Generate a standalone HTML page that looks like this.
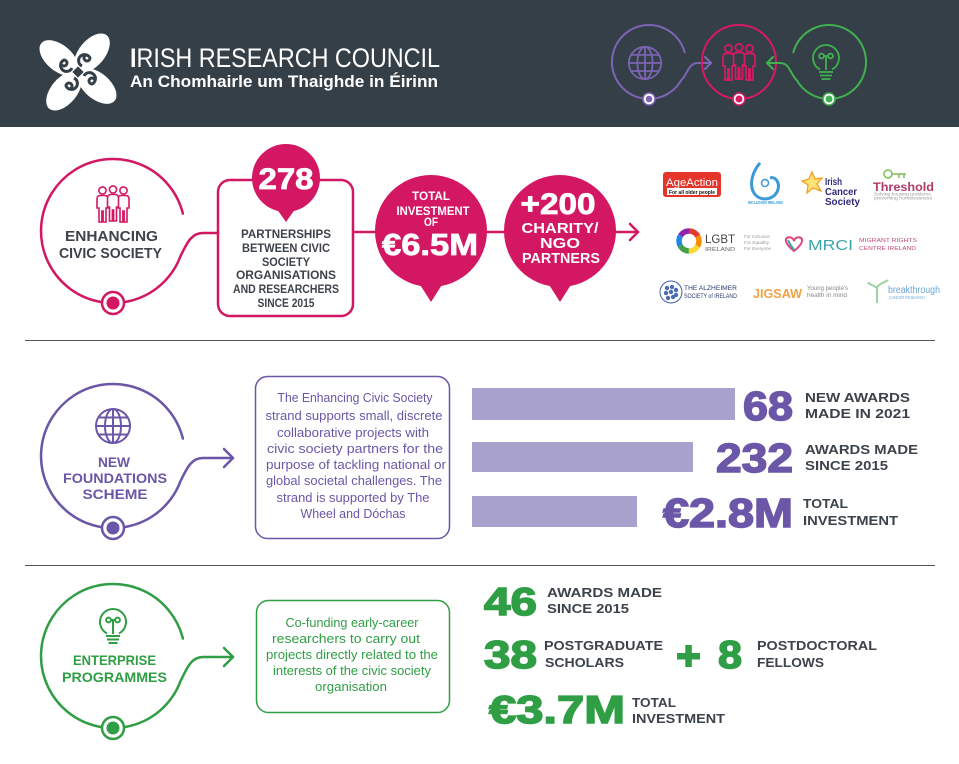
<!DOCTYPE html>
<html>
<head>
<meta charset="utf-8">
<style>
  html,body{margin:0;padding:0;background:#fff;}
  svg{display:block;}
  text{font-family:"Liberation Sans","DejaVu Sans",sans-serif;}
</style>
</head>
<body>
<svg width="959" height="764" viewBox="0 0 959 764" xmlns="http://www.w3.org/2000/svg">
  <defs>
    <g id="person">
      <circle cx="0" cy="4.5" r="3.6"/>
      <path d="M-5.5 22 V13 Q-5.5 9.5 -2 9.5 H2 Q5.5 9.5 5.5 13 V22 H3.5 V36 H0.6 V25 H-0.6 V36 H-3.5 V22 Z"/>
    </g>
    <g id="people">
      <use href="#person" x="5.5" y="1"/>
      <use href="#person" x="26.5" y="1"/>
      <use href="#person" x="16" y="0"/>
    </g>
    <g id="globe" fill="none">
      <circle cx="0" cy="0" r="17"/>
      <ellipse cx="0" cy="0" rx="8" ry="17"/>
      <line x1="0" y1="-17" x2="0" y2="17"/>
      <line x1="-17" y1="0" x2="17" y2="0"/>
      <line x1="-14.5" y1="-8.5" x2="14.5" y2="-8.5"/>
      <line x1="-14.5" y1="8.5" x2="14.5" y2="8.5"/>
    </g>
    <g id="bulb" fill="none">
      <path d="M-6 11.5 A13 13 0 1 1 6 11.5"/>
      <circle cx="-4.5" cy="-2" r="2.4"/>
      <circle cx="4.5" cy="-2" r="2.4"/>
      <path d="M-2.1 -2 H2.1 M0 -2 V12"/>
      <path d="M-7 14 H7 M-6 17.5 H6 M-4.5 21 H4.5"/>
    </g>
  </defs>

  <!-- HEADER -->
  <rect x="0" y="0" width="959" height="127" fill="#353f48"/>
  <!-- logo -->
  <g transform="translate(78,72)">
    <g fill="#ffffff">
      <ellipse cx="14" cy="-19" rx="13" ry="23" transform="rotate(40 14 -19)"/>
      <ellipse cx="19" cy="14" rx="13" ry="23" transform="rotate(130 19 14)"/>
      <ellipse cx="-14" cy="19" rx="13" ry="23" transform="rotate(40 -14 19)"/>
      <ellipse cx="-19" cy="-14" rx="13" ry="23" transform="rotate(130 -19 -14)"/>
    </g>
    <g fill="none" stroke="#353f48" stroke-width="3">
      <path d="M4 -6 a6 6 0 1 1 8 -8 a3 3 0 1 1 -3 -3"/>
      <path d="M6 4 a6 6 0 1 1 8 8 a3 3 0 1 1 3 -3"/>
      <path d="M-4 6 a6 6 0 1 1 -8 8 a3 3 0 1 1 3 3"/>
      <path d="M-6 -4 a6 6 0 1 1 -8 -8 a3 3 0 1 1 -3 3"/>
    </g>
    <rect x="-4" y="-4" width="8" height="8" fill="#353f48" transform="rotate(45)"/>
  </g>
  <text x="130" y="67" font-size="27" fill="#ffffff" textLength="310" lengthAdjust="spacingAndGlyphs"><tspan font-weight="bold">I</tspan>RISH RESEARCH COUNCIL</text>
  <text x="130" y="87" font-size="17" font-weight="bold" fill="#ffffff" textLength="308" lengthAdjust="spacingAndGlyphs">An Chomhairle um Thaighde in Éirinn</text>

  <!-- header icons -->
  <g fill="none" stroke-width="2" stroke-linecap="round" stroke-linejoin="round">
    <path d="M684.7 52.4 A37 37 0 1 0 681 80.5 C688 74 688 63 698 63 L711 63" stroke="#7d65b6"/>
    <path d="M705 57 L711 63 L705 69" stroke="#7d65b6"/>
    <circle cx="739" cy="62" r="37" stroke="#d81a63"/>
    <path d="M793.3 52.4 A37 37 0 1 1 797 80.5 C790 74 790 63 780 63 L767 63" stroke="#3fb24f"/>
    <path d="M773 57 L767 63 L773 69" stroke="#3fb24f"/>
  </g>
  <g stroke="#7d65b6" stroke-width="1.8"><use href="#globe" transform="translate(645,63) scale(0.95)"/></g>
  <g stroke="#d81a63" stroke-width="1.7" fill="#353f48"><use href="#people" transform="translate(723,43) scale(1)"/></g>
  <g stroke="#3fb24f" stroke-width="1.8"><use href="#bulb" transform="translate(826,58) scale(1)"/></g>
  <circle cx="649" cy="99" r="6" fill="#ffffff" stroke="#7d65b6" stroke-width="1.5"/>
  <circle cx="649" cy="99" r="3.3" fill="#7d65b6"/>
  <circle cx="739" cy="99" r="6" fill="#ffffff" stroke="#d81a63" stroke-width="1.5"/>
  <circle cx="739" cy="99" r="3.5" fill="#d81a63"/>
  <circle cx="829" cy="99" r="6" fill="#ffffff" stroke="#3fb24f" stroke-width="1.5"/>
  <circle cx="829" cy="99" r="3.5" fill="#3fb24f"/>

  <!-- SECTION 1 -->
  <g fill="none" stroke="#d31763" stroke-width="2.5" stroke-linecap="round" stroke-linejoin="round">
    <path d="M182.9 213.6 A72 72 0 1 0 180.7 255.6 C186 246 190 233 203 233 L218 233"/>
    <rect x="218" y="180" width="135" height="136" rx="12"/>
    <path d="M353 232 L376 232"/>
    <path d="M486 232 L505 232"/>
    <path d="M615 232 L638 232"/>
    <path d="M630 224 L638 232 L630 240"/>
  </g>
  <circle cx="113" cy="303" r="11" fill="#ffffff" stroke="#d31763" stroke-width="2.5"/>
  <circle cx="113" cy="303" r="6.5" fill="#d31763"/>
  <g stroke="#d31763" stroke-width="1.6" fill="#ffffff"><use href="#people" transform="translate(97,185)"/></g>
  <text x="111.5" y="241" font-size="14.5" font-weight="bold" fill="#3d434a" text-anchor="middle" textLength="93" lengthAdjust="spacingAndGlyphs">ENHANCING</text>
  <text x="110.5" y="258" font-size="14.5" font-weight="bold" fill="#3d434a" text-anchor="middle" textLength="103" lengthAdjust="spacingAndGlyphs">CIVIC SOCIETY</text>

  <!-- 278 bubble -->
  <circle cx="286" cy="178" r="34" fill="#d31763"/>
  <path d="M274 205 L298 205 L286 222 Z" fill="#d31763"/>
  <text x="286" y="189" font-size="30" font-weight="bold" fill="#ffffff" stroke="#ffffff" stroke-width="0.8" text-anchor="middle" textLength="55" lengthAdjust="spacingAndGlyphs">278</text>
  <g font-size="12" font-weight="bold" fill="#3d434a" text-anchor="middle">
    <text x="286" y="238" textLength="90" lengthAdjust="spacingAndGlyphs">PARTNERSHIPS</text>
    <text x="286" y="252" textLength="88" lengthAdjust="spacingAndGlyphs">BETWEEN CIVIC</text>
    <text x="286" y="266" textLength="48" lengthAdjust="spacingAndGlyphs">SOCIETY</text>
    <text x="286" y="279" textLength="100" lengthAdjust="spacingAndGlyphs">ORGANISATIONS</text>
    <text x="286" y="293" textLength="106" lengthAdjust="spacingAndGlyphs">AND RESEARCHERS</text>
    <text x="286" y="307" textLength="57" lengthAdjust="spacingAndGlyphs">SINCE 2015</text>
  </g>

  <!-- investment bubble -->
  <circle cx="431" cy="231" r="56" fill="#d31763"/>
  <path d="M417 280 L445 280 L431 302 Z" fill="#d31763"/>
  <g font-weight="bold" fill="#ffffff" text-anchor="middle">
    <text x="431" y="200" font-size="11.5" textLength="38" lengthAdjust="spacingAndGlyphs">TOTAL</text>
    <text x="433" y="215" font-size="11.5" textLength="73" lengthAdjust="spacingAndGlyphs">INVESTMENT</text>
    <text x="431" y="226" font-size="11.5" textLength="14" lengthAdjust="spacingAndGlyphs">OF</text>
    <text x="430" y="255" font-size="31" stroke="#ffffff" stroke-width="0.8" textLength="96" lengthAdjust="spacingAndGlyphs">€6.5M</text>
  </g>

  <!-- partners bubble -->
  <circle cx="560" cy="231" r="56" fill="#d31763"/>
  <path d="M546 280 L574 280 L560 302 Z" fill="#d31763"/>
  <g font-weight="bold" fill="#ffffff" text-anchor="middle">
    <text x="558" y="214" font-size="30" stroke="#ffffff" stroke-width="0.8" textLength="75" lengthAdjust="spacingAndGlyphs">+200</text>
    <text x="560" y="233" font-size="15" textLength="77" lengthAdjust="spacingAndGlyphs">CHARITY/</text>
    <text x="560" y="248" font-size="15" textLength="40" lengthAdjust="spacingAndGlyphs">NGO</text>
    <text x="561" y="263" font-size="15" textLength="78" lengthAdjust="spacingAndGlyphs">PARTNERS</text>
  </g>

  <!-- partner logos -->
  <!-- Age Action -->
  <rect x="663" y="172" width="58" height="25" rx="3" fill="#e5352b"/>
  <text x="666" y="186" font-size="11" fill="#ffffff" textLength="52" lengthAdjust="spacingAndGlyphs">AgeAction</text>
  <rect x="667" y="188" width="50" height="7" fill="#ffffff"/>
  <text x="669" y="194" font-size="5.5" font-weight="bold" fill="#111" textLength="46" lengthAdjust="spacingAndGlyphs">For all older people</text>
  <!-- Inclusion Ireland -->
  <path d="M760 163 C752 172 749 185 754 193 C759 201 772 201 777 192 C781 184 776 176 770 178" fill="none" stroke="#3a9ad9" stroke-width="3"/>
  <circle cx="765" cy="183" r="3.5" fill="none" stroke="#3a9ad9" stroke-width="1.5"/>
  <text x="748" y="204" font-size="4.8" font-weight="bold" fill="#3a9ad9" textLength="35" lengthAdjust="spacingAndGlyphs">INCLUSION IRELAND</text>
  <!-- Irish Cancer Society -->
  <polygon points="812,172 815,179 822,178 817,184 821,191 813,188 807,193 808,185 802,181 809,179" fill="#fde27a" stroke="#f0a020" stroke-width="1.3"/>
  <g font-size="10" font-weight="bold" fill="#2e2a7c">
    <text x="825" y="185" textLength="17" lengthAdjust="spacingAndGlyphs">Irish</text>
    <text x="825" y="195" textLength="32" lengthAdjust="spacingAndGlyphs">Cancer</text>
    <text x="825" y="205" textLength="35" lengthAdjust="spacingAndGlyphs">Society</text>
  </g>
  <!-- Threshold -->
  <circle cx="888" cy="174" r="4" fill="none" stroke="#7cbf5a" stroke-width="1.5"/>
  <path d="M892 174 H906 M899 174 V178 M904 174 V178" fill="none" stroke="#7cbf5a" stroke-width="1.5"/>
  <text x="873" y="191" font-size="12" font-weight="bold" fill="#b03a66" textLength="61" lengthAdjust="spacingAndGlyphs">Threshold</text>
  <text x="874" y="195.5" font-size="4.5" fill="#999" textLength="58" lengthAdjust="spacingAndGlyphs">Solving housing problems,</text>
  <text x="874" y="199.5" font-size="4.5" fill="#999" textLength="58" lengthAdjust="spacingAndGlyphs">preventing homelessness</text>
  <!-- LGBT -->
  <g fill="none" stroke-width="5.5" transform="rotate(-90 689 241)">
    <circle cx="689" cy="241" r="10" stroke="#e53935" stroke-dasharray="10.5 52.4" stroke-dashoffset="0"/>
    <circle cx="689" cy="241" r="10" stroke="#fb8c00" stroke-dasharray="10.5 52.4" stroke-dashoffset="-10.5"/>
    <circle cx="689" cy="241" r="10" stroke="#fdd835" stroke-dasharray="10.5 52.4" stroke-dashoffset="-21"/>
    <circle cx="689" cy="241" r="10" stroke="#43a047" stroke-dasharray="10.5 52.4" stroke-dashoffset="-31.4"/>
    <circle cx="689" cy="241" r="10" stroke="#1e88e5" stroke-dasharray="10.5 52.4" stroke-dashoffset="-41.9"/>
    <circle cx="689" cy="241" r="10" stroke="#8e24aa" stroke-dasharray="10.5 52.4" stroke-dashoffset="-52.4"/>
  </g>
  <text x="705" y="243" font-size="12" fill="#444" textLength="30" lengthAdjust="spacingAndGlyphs">LGBT</text>
  <text x="705" y="251" font-size="5.5" fill="#666" textLength="30" lengthAdjust="spacingAndGlyphs">IRELAND</text>
  <g font-size="4.5" fill="#999">
    <text x="744" y="238" textLength="26" lengthAdjust="spacingAndGlyphs">For Inclusion</text>
    <text x="744" y="244" textLength="25" lengthAdjust="spacingAndGlyphs">For Equality</text>
    <text x="744" y="250" textLength="27" lengthAdjust="spacingAndGlyphs">For Everyone</text>
  </g>
  <!-- MRCI -->
  <path d="M786 239 C788 236 793 237 794 241 C795 237 800 236 802 239 C803 243 798 248 794 251 C790 248 785 243 786 239 Z" fill="none" stroke="#e0477f" stroke-width="2"/>
  <path d="M788 240 C790 245 793 248 794 250" fill="none" stroke="#3aa5a8" stroke-width="2"/>
  <text x="808" y="250" font-size="15" fill="#3aa5a8" textLength="45" lengthAdjust="spacingAndGlyphs">MRCI</text>
  <text x="859" y="242" font-size="5.2" fill="#c2497c" textLength="58" lengthAdjust="spacingAndGlyphs">MIGRANT RIGHTS</text>
  <text x="859" y="250" font-size="5.2" fill="#c2497c" textLength="57" lengthAdjust="spacingAndGlyphs">CENTRE IRELAND</text>
  <!-- Alzheimer -->
  <circle cx="671" cy="292" r="11" fill="#ffffff" stroke="#3d5fa8" stroke-width="1"/>
  <g fill="#4a6cb5">
    <circle cx="667" cy="288" r="2.2"/><circle cx="672" cy="287" r="2.2"/><circle cx="676" cy="290" r="2.2"/>
    <circle cx="666" cy="293" r="2.2"/><circle cx="671" cy="292" r="2.2"/><circle cx="676" cy="295" r="2.2"/>
    <circle cx="668" cy="298" r="2.2"/><circle cx="673" cy="297" r="2.2"/>
  </g>
  <text x="684" y="290" font-size="6" font-family="Liberation Serif, serif" fill="#2b3a6b" textLength="53" lengthAdjust="spacingAndGlyphs">THE ALZHEIMER</text>
  <text x="684" y="298" font-size="6" font-family="Liberation Serif, serif" fill="#2b3a6b" textLength="53" lengthAdjust="spacingAndGlyphs">SOCIETY of IRELAND</text>
  <!-- Jigsaw -->
  <text x="753" y="298" font-size="13" font-weight="bold" fill="#f0a347" textLength="49" lengthAdjust="spacingAndGlyphs">JIGSAW</text>
  <text x="807" y="290" font-size="6" fill="#888" textLength="41" lengthAdjust="spacingAndGlyphs">Young people's</text>
  <text x="807" y="297" font-size="6" fill="#888" textLength="40" lengthAdjust="spacingAndGlyphs">health in mind</text>
  <!-- Breakthrough -->
  <path d="M877 303 V287 M877 288 C872 284 869 285 868 282 M877 287 C882 282 886 282 888 280" fill="none" stroke="#9fd1a0" stroke-width="2"/>
  <text x="888" y="293" font-size="10" fill="#6aa7d8" textLength="52" lengthAdjust="spacingAndGlyphs">breakthrough</text>
  <text x="889" y="299" font-size="4.5" fill="#6aa7d8" textLength="36" lengthAdjust="spacingAndGlyphs">CANCER RESEARCH</text>

  <!-- dividers -->
  <line x1="25" y1="340.5" x2="935" y2="340.5" stroke="#555" stroke-width="1"/>
  <line x1="25" y1="565.5" x2="935" y2="565.5" stroke="#555" stroke-width="1"/>

  <!-- SECTION 2 -->
  <g fill="none" stroke="#6b56a8" stroke-width="2.5" stroke-linecap="round" stroke-linejoin="round">
    <path d="M182.9 438.6 A72 72 0 1 0 180.7 480.6 C186 471 190 458 203 458 L233 458"/>
    <path d="M224 449 L233 458 L224 467"/>
  </g>
  <rect x="255.5" y="376.5" width="194" height="162" rx="12" fill="none" stroke="#6b56a8" stroke-width="1.5"/>
  <circle cx="113" cy="528" r="11" fill="#ffffff" stroke="#6b56a8" stroke-width="2.5"/>
  <circle cx="113" cy="528" r="6.5" fill="#6b56a8"/>
  <g stroke="#6b56a8" stroke-width="2"><use href="#globe" transform="translate(113,426)"/></g>
  <g font-size="14" font-weight="bold" fill="#6b56a8" text-anchor="middle">
    <text x="114" y="467" textLength="32" lengthAdjust="spacingAndGlyphs">NEW</text>
    <text x="115" y="483" textLength="104" lengthAdjust="spacingAndGlyphs">FOUNDATIONS</text>
    <text x="115" y="499" textLength="65" lengthAdjust="spacingAndGlyphs">SCHEME</text>
  </g>
  <g font-size="13" fill="#6b56a8" text-anchor="middle">
    <text x="355" y="402" textLength="155" lengthAdjust="spacingAndGlyphs">The Enhancing Civic Society</text>
    <text x="354" y="420" textLength="177" lengthAdjust="spacingAndGlyphs">strand supports small, discrete</text>
    <text x="353" y="437" textLength="152" lengthAdjust="spacingAndGlyphs">collaborative projects with</text>
    <text x="355" y="453" textLength="176" lengthAdjust="spacingAndGlyphs">civic society partners for the</text>
    <text x="356" y="469" textLength="180" lengthAdjust="spacingAndGlyphs">purpose of tackling national or</text>
    <text x="354" y="485" textLength="176" lengthAdjust="spacingAndGlyphs">global societal challenges. The</text>
    <text x="353" y="502" textLength="153" lengthAdjust="spacingAndGlyphs">strand is supported by The</text>
    <text x="353" y="518" textLength="105" lengthAdjust="spacingAndGlyphs">Wheel and Dóchas</text>
  </g>
  <rect x="472" y="388" width="263" height="32" fill="#a8a0cd"/>
  <rect x="472" y="442" width="221" height="30" fill="#a8a0cd"/>
  <rect x="472" y="496" width="165" height="31" fill="#a8a0cd"/>
  <g font-weight="bold" fill="#6b56a8" stroke="#6b56a8" stroke-width="1.5" font-size="41">
    <text x="743" y="420" textLength="50" lengthAdjust="spacingAndGlyphs">68</text>
    <text x="716" y="472" textLength="77" lengthAdjust="spacingAndGlyphs">232</text>
    <text x="663" y="527" textLength="130" lengthAdjust="spacingAndGlyphs">€2.8M</text>
  </g>
  <g font-size="13" font-weight="bold" fill="#3d434a">
    <text x="805" y="402" textLength="105" lengthAdjust="spacingAndGlyphs">NEW AWARDS</text>
    <text x="805" y="418" textLength="105" lengthAdjust="spacingAndGlyphs">MADE IN 2021</text>
    <text x="805" y="454" textLength="113" lengthAdjust="spacingAndGlyphs">AWARDS MADE</text>
    <text x="805" y="470" textLength="83" lengthAdjust="spacingAndGlyphs">SINCE 2015</text>
    <text x="803" y="508" textLength="45" lengthAdjust="spacingAndGlyphs">TOTAL</text>
    <text x="803" y="525" textLength="95" lengthAdjust="spacingAndGlyphs">INVESTMENT</text>
  </g>

  <!-- SECTION 3 -->
  <g fill="none" stroke="#2f9e44" stroke-width="2.5" stroke-linecap="round" stroke-linejoin="round">
    <path d="M182.9 638.6 A72 72 0 1 0 180.7 680.6 C186 671 190 657 203 657 L233 657"/>
    <path d="M224 648 L233 657 L224 666"/>
  </g>
  <rect x="256.5" y="600.5" width="193" height="112" rx="12" fill="none" stroke="#2f9e44" stroke-width="1.5"/>
  <circle cx="113" cy="728" r="11" fill="#ffffff" stroke="#2f9e44" stroke-width="2.5"/>
  <circle cx="113" cy="728" r="6.5" fill="#2f9e44"/>
  <g stroke="#2f9e44" stroke-width="2"><use href="#bulb" transform="translate(113,622)"/></g>
  <g font-size="14" font-weight="bold" fill="#2f9e44" text-anchor="middle">
    <text x="114.5" y="665" textLength="83" lengthAdjust="spacingAndGlyphs">ENTERPRISE</text>
    <text x="114.5" y="682" textLength="105" lengthAdjust="spacingAndGlyphs">PROGRAMMES</text>
  </g>
  <g font-size="13" fill="#2f9e44" text-anchor="middle">
    <text x="352" y="627" textLength="133" lengthAdjust="spacingAndGlyphs">Co-funding early-career</text>
    <text x="346" y="643" textLength="148" lengthAdjust="spacingAndGlyphs">researchers to carry out</text>
    <text x="352" y="659" textLength="172" lengthAdjust="spacingAndGlyphs">projects directly related to the</text>
    <text x="352" y="675" textLength="158" lengthAdjust="spacingAndGlyphs">interests of the civic society</text>
    <text x="351" y="691" textLength="72" lengthAdjust="spacingAndGlyphs">organisation</text>
  </g>
  <g font-weight="bold" fill="#2f9e44" stroke="#2f9e44" stroke-width="1.5" font-size="39">
    <text x="484" y="615" textLength="53" lengthAdjust="spacingAndGlyphs">46</text>
    <text x="484" y="668" textLength="53" lengthAdjust="spacingAndGlyphs">38</text>
    <text x="718" y="668" textLength="24" lengthAdjust="spacingAndGlyphs">8</text>
    <text x="489" y="723" textLength="136" lengthAdjust="spacingAndGlyphs">€3.7M</text>
  </g>
  <rect x="677" y="653" width="23" height="6.5" fill="#2f9e44"/>
  <rect x="685.3" y="645" width="6.5" height="22" fill="#2f9e44"/>
  <g font-size="13" font-weight="bold" fill="#3d434a">
    <text x="547" y="597" textLength="115" lengthAdjust="spacingAndGlyphs">AWARDS MADE</text>
    <text x="547" y="613" textLength="82" lengthAdjust="spacingAndGlyphs">SINCE 2015</text>
    <text x="544" y="650" textLength="119" lengthAdjust="spacingAndGlyphs">POSTGRADUATE</text>
    <text x="545" y="667" textLength="79" lengthAdjust="spacingAndGlyphs">SCHOLARS</text>
    <text x="757" y="650" textLength="120" lengthAdjust="spacingAndGlyphs">POSTDOCTORAL</text>
    <text x="757" y="667" textLength="67" lengthAdjust="spacingAndGlyphs">FELLOWS</text>
    <text x="632" y="707" textLength="44" lengthAdjust="spacingAndGlyphs">TOTAL</text>
    <text x="632" y="723" textLength="93" lengthAdjust="spacingAndGlyphs">INVESTMENT</text>
  </g>
</svg>
</body>
</html>
